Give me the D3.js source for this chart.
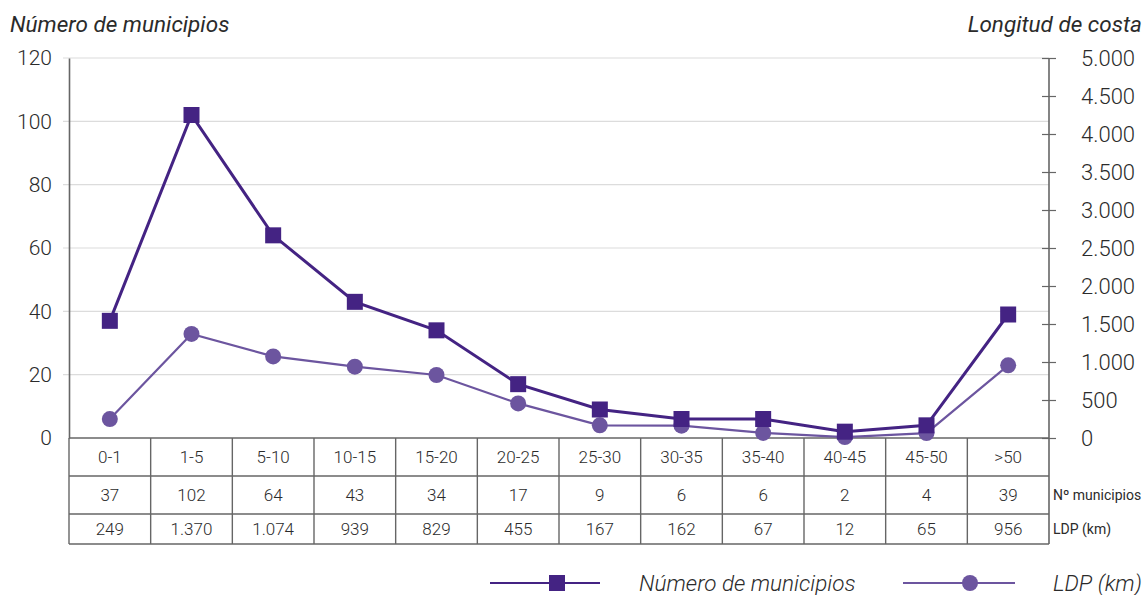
<!DOCTYPE html>
<html>
<head>
<meta charset="utf-8">
<script src="https://cdn.jsdelivr.net/npm/d3@7"></script>
<style>
  body { margin: 0; background: #fff; }
  svg text { font-family: Roboto, 'Noto Sans', sans-serif; fill: #2b2b2b; }
</style>
</head>
<body>
<div id="chart"></div>
<script>
// Data
const categories = ['0-1', '1-5', '5-10', '10-15', '15-20', '20-25', '25-30', '30-35', '35-40', '40-45', '45-50', '>50'];
const municipios = [37, 102, 64, 43, 34, 17, 9, 6, 6, 2, 4, 39];
const ldp = [249, 1370, 1074, 939, 829, 455, 167, 162, 67, 12, 65, 956];
const leftTicks = [0, 20, 40, 60, 80, 100, 120];
const rightTicks = [0, 500, 1000, 1500, 2000, 2500, 3000, 3500, 4000, 4500, 5000];

// Constant
const width = 1144;
const height = 595;
const plotLeft = 69;
const plotRight = 1049;
const plotTop = 58;
const plotBottom = 438;
const rowLines = [438, 476, 514, 544];
const darkColor = '#442383';
const lightColor = '#6c559f';
const axisColor = '#666';
const gridColor = '#dcdcdc';

const fmt = d3.formatLocale({decimal: ',', thousands: '.', grouping: [3], currency: ['', '€']}).format(',d');

const xScale = d3.scaleBand().domain(categories).range([plotLeft, plotRight]);
const yLeft = d3.scaleLinear().domain([0, 120]).range([plotBottom, plotTop]);
const yRight = d3.scaleLinear().domain([0, 5000]).range([plotBottom, plotTop]);
const cx = d => xScale(d) + xScale.bandwidth() / 2;

const svg = d3.select('#chart').append('svg')
    .attr('width', width)
    .attr('height', height);

// Gridlines
svg.append('g').selectAll('line')
    .data(leftTicks.filter(d => d > 0))
    .enter().append('line')
        .attr('x1', plotLeft - 6)
        .attr('x2', plotRight)
        .attr('y1', d => yLeft(d))
        .attr('y2', d => yLeft(d))
        .attr('stroke', gridColor)
        .attr('stroke-width', 1.2);

// Left axis
const leftAxis = svg.append('g')
    .attr('transform', `translate(${plotLeft},0)`)
    .call(d3.axisLeft(yLeft).tickValues(leftTicks).tickSize(0).tickPadding(17));
leftAxis.select('.domain').attr('stroke', axisColor).attr('stroke-width', 1.6);
leftAxis.selectAll('text').style('font-size', '21px').style('font-weight', 300).attr('fill', '#2b2b2b');

// Right axis
const rightAxis = svg.append('g')
    .attr('transform', `translate(${plotRight},0)`)
    .call(d3.axisRight(yRight).tickValues(rightTicks).tickFormat(fmt).tickSize(7).tickPadding(25));
rightAxis.select('.domain').remove();
rightAxis.selectAll('.tick line').attr('x1', -7).attr('stroke', axisColor).attr('stroke-width', 1.2);
rightAxis.selectAll('text').style('font-size', '22px').style('font-weight', 300).attr('fill', '#2b2b2b');
svg.append('line')
    .attr('x1', plotRight).attr('x2', plotRight)
    .attr('y1', plotTop).attr('y2', rowLines[3])
    .attr('stroke', axisColor).attr('stroke-width', 1.6);

// Table
const table = svg.append('g');
table.selectAll('.hline')
    .data(rowLines)
    .enter().append('line')
        .attr('class', 'hline')
        .attr('x1', plotLeft)
        .attr('x2', plotRight)
        .attr('y1', d => d)
        .attr('y2', d => d)
        .attr('stroke', axisColor)
        .attr('stroke-width', 1.4);
table.selectAll('.vline')
    .data(categories)
    .enter().append('line')
        .attr('class', 'vline')
        .attr('x1', d => xScale(d))
        .attr('x2', d => xScale(d))
        .attr('y1', plotBottom)
        .attr('y2', rowLines[3])
        .attr('stroke', axisColor)
        .attr('stroke-width', 1.4);

const rows = [categories, municipios.map(String), ldp.map(fmt)];
rows.forEach((row, i) => {
    table.selectAll('.row' + i)
        .data(row)
        .enter().append('text')
            .attr('class', 'row' + i)
            .attr('x', (d, j) => cx(categories[j]))
            .attr('y', (rowLines[i] + rowLines[i + 1]) / 2 + 6)
            .attr('text-anchor', 'middle')
            .style('font-size', '17px')
            .style('font-weight', 300)
            .text(d => d);
});
table.append('text')
    .attr('x', plotRight + 4)
    .attr('y', (rowLines[1] + rowLines[2]) / 2 + 5)
    .style('font-size', '14px')
    .text('Nº municipios');
table.append('text')
    .attr('x', plotRight + 4)
    .attr('y', (rowLines[2] + rowLines[3]) / 2 + 5)
    .style('font-size', '14px')
    .text('LDP (km)');

// Titles
svg.append('text')
    .attr('x', 10).attr('y', 32)
    .style('font-size', '22.5px')
    .style('font-style', 'italic')
    .text('Número de municipios');
svg.append('text')
    .attr('x', 1142).attr('y', 32)
    .attr('text-anchor', 'end')
    .style('font-size', '22.5px')
    .style('font-style', 'italic')
    .text('Longitud de costa');

// LDP line
svg.append('path')
    .datum(ldp)
    .attr('fill', 'none')
    .attr('stroke', lightColor)
    .attr('stroke-width', 2.2)
    .attr('d', d3.line().x((d, i) => cx(categories[i])).y(d => yRight(d)));
svg.selectAll('.ldpCircle')
    .data(ldp)
    .enter().append('circle')
        .attr('class', 'ldpCircle')
        .attr('cx', (d, i) => cx(categories[i]))
        .attr('cy', d => yRight(d))
        .attr('r', 8)
        .attr('fill', lightColor);

// Municipios line
svg.append('path')
    .datum(municipios)
    .attr('fill', 'none')
    .attr('stroke', darkColor)
    .attr('stroke-width', 3)
    .attr('d', d3.line().x((d, i) => cx(categories[i])).y(d => yLeft(d)));
svg.selectAll('.munSquare')
    .data(municipios)
    .enter().append('rect')
        .attr('class', 'munSquare')
        .attr('x', (d, i) => cx(categories[i]) - 8)
        .attr('y', d => yLeft(d) - 8)
        .attr('width', 16)
        .attr('height', 16)
        .attr('fill', darkColor);

// Legend
const legend = svg.append('g').attr('transform', 'translate(0,583)');
legend.append('line').attr('x1', 490).attr('x2', 600).attr('stroke', darkColor).attr('stroke-width', 2.2);
legend.append('rect').attr('x', 549).attr('y', -8).attr('width', 16).attr('height', 16).attr('fill', darkColor);
legend.append('text').attr('x', 639).attr('y', 8)
    .style('font-size', '22.5px').style('font-style', 'italic').style('font-weight', 300)
    .text('Número de municipios');
legend.append('line').attr('x1', 903).attr('x2', 1015).attr('stroke', lightColor).attr('stroke-width', 2.2);
legend.append('circle').attr('cx', 970).attr('r', 8).attr('fill', lightColor);
legend.append('text').attr('x', 1053).attr('y', 8)
    .style('font-size', '22.5px').style('font-style', 'italic').style('font-weight', 300)
    .text('LDP (km)');
</script>
</body>
</html>
